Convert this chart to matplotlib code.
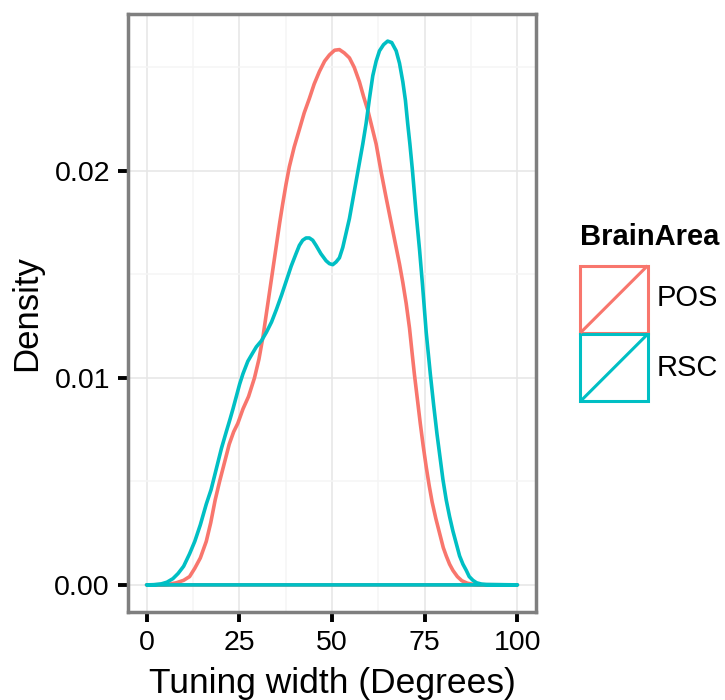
import numpy as np
import matplotlib
matplotlib.use("Agg")
import matplotlib.pyplot as plt
from matplotlib.patches import Polygon, Rectangle
from matplotlib.ticker import MultipleLocator

plt.rcParams['font.family'] = ['Liberation Sans', 'DejaVu Sans']

# Density estimates of tuning width per brain area
pos_x = [0, 4, 6, 8, 10, 11.6, 13, 14.5, 16.1, 17.3, 18.5, 19.7, 21, 22.3, 23.5,
         24.6, 26, 27.5, 29.1, 30.3, 31.4, 32.3, 33.2, 34.1, 35, 35.9, 36.7,
         37.6, 38.5, 39.8, 41.2, 42.5, 43.9, 45.2, 46.6, 48, 49.3, 50.7, 52,
         53.3, 54.7, 56, 57.4, 58.5, 59.7, 60.8, 61.9, 63.3, 64.6, 65.5, 66.4,
         67.3, 68.2, 69.1, 70, 70.9, 71.6, 72.2, 73, 73.8, 74.6, 75.4, 76.2, 77,
         78, 79, 80, 80.8, 81.7, 82.6, 83.8, 85, 86.5, 88, 90, 100]
pos_y = [0, 0.00001, 0.00003, 0.0001, 0.00022, 0.0004, 0.0008, 0.0013, 0.0021,
         0.0030, 0.0041, 0.0050, 0.0059, 0.0068, 0.0074, 0.0078, 0.0085, 0.0091,
         0.0100, 0.0109, 0.0120, 0.0131, 0.0142, 0.0153, 0.0164, 0.0175, 0.0184,
         0.01935, 0.0202, 0.02115, 0.0220, 0.0228, 0.0235, 0.0242, 0.0248, 0.0253,
         0.0256, 0.02583, 0.02586, 0.0257, 0.02546, 0.0250, 0.0243, 0.0236,
         0.0229, 0.0221, 0.0213, 0.0199, 0.0187, 0.0179, 0.0171, 0.0163, 0.0155,
         0.0146, 0.0136, 0.0124, 0.0112, 0.0102, 0.0090, 0.0078, 0.0067, 0.0057,
         0.0048, 0.0040, 0.0032, 0.0025, 0.0018, 0.0014, 0.0010, 0.0007, 0.0004,
         0.0002, 0.00008, 0.00003, 0.00001, 0]

rsc_x = [0, 2, 4, 5.5, 7.1, 8.5, 10, 11.6, 13, 14.5, 16.1, 17.4, 18.8, 20.2,
         21.5, 22.5, 23.3, 24.2, 25.1, 26, 27.3, 28.6, 29.6, 31, 32.3, 33.7, 35,
         36.4, 37.7, 39, 40.3, 41.2, 42.1, 43, 43.9, 44.8, 45.7, 47, 48.4, 49.3,
         50.2, 51.1, 52, 52.9, 53.8, 54.7, 55.6, 56.5, 57.4, 58.3, 59.2, 60.1,
         61, 61.9, 62.8, 63.9, 65, 66.1, 67.3, 68.2, 69.1, 69.8, 70.4, 71, 71.7,
         72.7, 73.6, 74.4, 75.4, 76.5, 77.4, 78.3, 79.1, 79.9, 80.8, 81.7, 82.6,
         83.5, 84.4, 85.3, 86.2, 87, 88, 89, 90.3, 91.6, 100]
rsc_y = [0, 0.00001, 0.00005, 0.00013, 0.0003, 0.00055, 0.0009, 0.0015, 0.0021,
         0.0029, 0.0039, 0.0046, 0.0056, 0.0066, 0.0074, 0.0080, 0.0085, 0.0091,
         0.0097, 0.0102, 0.0108, 0.0112, 0.0115, 0.0118, 0.0122, 0.0127, 0.0133,
         0.0140, 0.0147, 0.0154, 0.0160, 0.0164, 0.01665, 0.01676, 0.01676,
         0.01665, 0.0164, 0.0160, 0.01566, 0.01552, 0.01547, 0.0156, 0.0158,
         0.0163, 0.0170, 0.0177, 0.0186, 0.0195, 0.0204, 0.0213, 0.0223, 0.0235,
         0.0246, 0.0253, 0.0258, 0.0261, 0.02627, 0.0262, 0.0258, 0.0252, 0.0243,
         0.0234, 0.0223, 0.0213, 0.0200, 0.0179, 0.0162, 0.0145, 0.0122, 0.0102,
         0.0087, 0.0073, 0.0062, 0.0051, 0.0041, 0.0033, 0.0026, 0.0020, 0.0014,
         0.0010, 0.0007, 0.0004, 0.00022, 0.0001, 0.00004, 0.00002, 0]

areas = ['POS', 'RSC']
colors = ['#F8766D', '#00BFC4']
x_ticks = [0, 25, 50, 75, 100]
y_ticks = [0.00, 0.01, 0.02]
y_tick_labels = ['0.00', '0.01', '0.02']

W, H = 725, 700
fig = plt.figure(figsize=(W / 100, H / 100), dpi=100)
fig.patch.set_facecolor('white')

left, right, top, bottom = 128, 536, 14, 612
ax = fig.add_axes([left / W, 1 - bottom / H, (right - left) / W, (bottom - top) / H])
ax.set_xlim(-5, 105)
ax.set_ylim(-0.00131, 0.02758)

# grid
ax.xaxis.set_major_locator(plt.FixedLocator(x_ticks))
ax.yaxis.set_major_locator(plt.FixedLocator(y_ticks))
ax.xaxis.set_minor_locator(MultipleLocator(12.5))
ax.yaxis.set_minor_locator(MultipleLocator(0.005))
ax.grid(which='major', color='#e6e6e6', linewidth=1.1)
ax.grid(which='minor', color='#f5f5f5', linewidth=1.1)
ax.set_axisbelow(True)
ax.tick_params(which='minor', length=0)

for xs, ys, c in [(pos_x, pos_y, colors[0]), (rsc_x, rsc_y, colors[1])]:
    pts = np.column_stack([xs, ys])
    ax.add_patch(Polygon(pts, closed=True, facecolor='none', edgecolor=c,
                         linewidth=2.6, joinstyle='round', zorder=3))

for sp in ax.spines.values():
    sp.set_color('#7f7f7f')
    sp.set_linewidth(2.5)

ax.set_yticklabels(y_tick_labels)
ax.tick_params(which='major', length=7, width=2.8, color='black',
               labelsize=20.5, labelcolor='black', pad=6)
ax.set_xlabel('Tuning width (Degrees)', fontsize=25.5, labelpad=8)
ax.set_ylabel('Density', fontsize=25, labelpad=8)

# legend
fig.text(580 / W, 1 - 237 / H, 'BrainArea', fontsize=21, fontweight='bold',
         ha='left', va='center')
lax = fig.add_axes([579 / W, 1 - 402 / H, 70 / W, 137 / H])
lax.set_xlim(0, 1)
lax.set_ylim(0, 2)
lax.axis('off')
for i, (name, c) in enumerate(zip(areas, colors)):
    y0 = 1 - i
    lax.add_patch(Rectangle((0.02, y0 + 0.01), 0.96, 0.98, facecolor='white',
                            edgecolor=c, linewidth=2.2, clip_on=False))
    lax.plot([0.02, 0.98], [y0 + 0.01, y0 + 0.99], color=c, linewidth=2.2,
             solid_capstyle='butt', clip_on=False)
    fig.text(657 / W, 1 - (298 + 70 * i) / H, name, fontsize=21,
             ha='left', va='center')

fig.savefig('out.png', dpi=100, facecolor='white')
